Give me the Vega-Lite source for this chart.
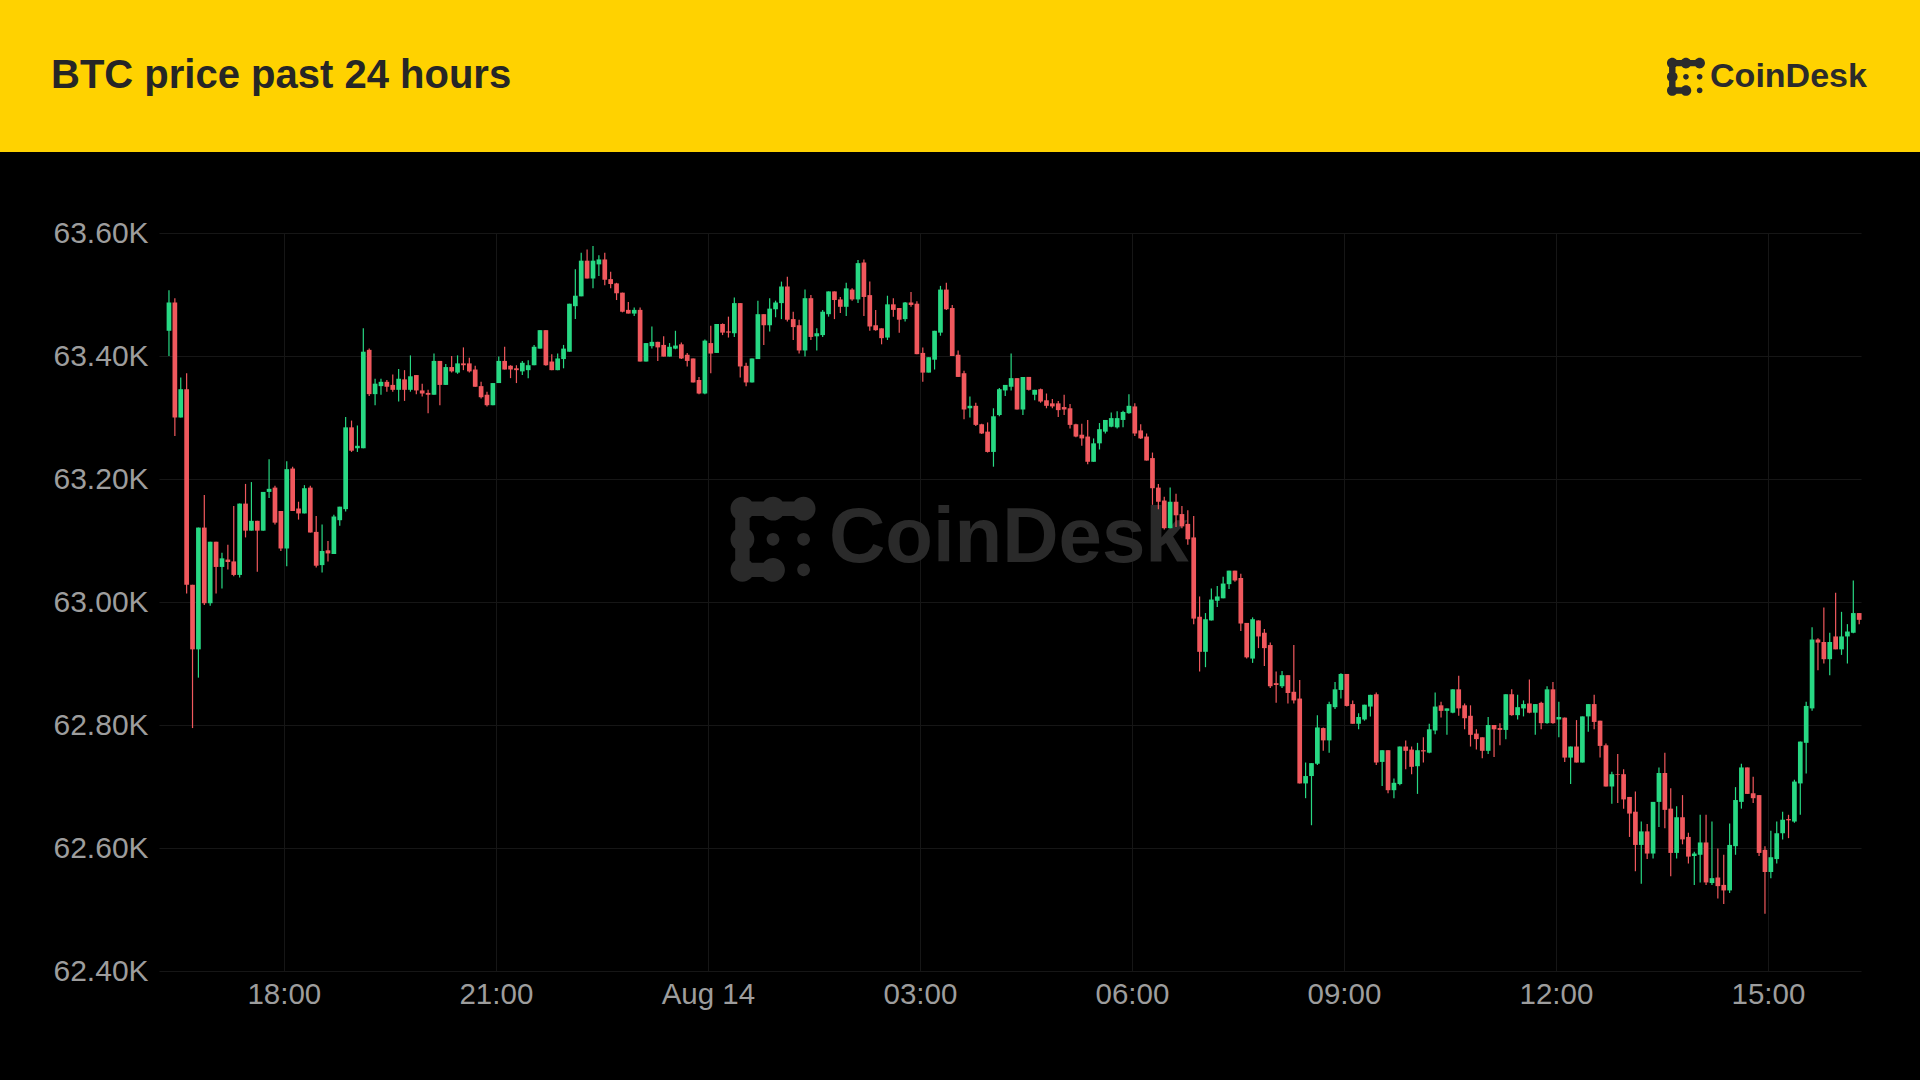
{
  "$schema": "https://vega.github.io/schema/vega-lite/v6.json",
  "width": 1920,
  "height": 928,
  "autosize": {"type": "none"},
  "padding": {"left": 0, "right": 0, "top": 152, "bottom": 0},
  "background": "#FFD200",
  "config": {"view": {"fill": "#000000", "stroke": null}, "font": "Liberation Sans"},
  "datasets": {"candles": [
    {"t":"2024-08-13T16:20","o":63441,"h":63507,"l":63400,"c":63487},
    {"t":"2024-08-13T16:25","o":63487,"h":63494,"l":63270,"c":63300},
    {"t":"2024-08-13T16:30","o":63300,"h":63365,"l":63300,"c":63346},
    {"t":"2024-08-13T16:35","o":63346,"h":63372,"l":63014,"c":63028},
    {"t":"2024-08-13T16:40","o":63028,"h":63028,"l":62795,"c":62923},
    {"t":"2024-08-13T16:45","o":62923,"h":63121,"l":62877,"c":63121},
    {"t":"2024-08-13T16:50","o":63121,"h":63174,"l":62995,"c":62998},
    {"t":"2024-08-13T16:55","o":62998,"h":63098,"l":62994,"c":63098},
    {"t":"2024-08-13T17:00","o":63098,"h":63098,"l":63014,"c":63057},
    {"t":"2024-08-13T17:05","o":63057,"h":63080,"l":63022,"c":63071},
    {"t":"2024-08-13T17:10","o":63069,"h":63093,"l":63053,"c":63065},
    {"t":"2024-08-13T17:15","o":63066,"h":63156,"l":63042,"c":63044},
    {"t":"2024-08-13T17:20","o":63044,"h":63160,"l":63040,"c":63160},
    {"t":"2024-08-13T17:25","o":63160,"h":63192,"l":63105,"c":63116},
    {"t":"2024-08-13T17:30","o":63116,"h":63195,"l":63116,"c":63132},
    {"t":"2024-08-13T17:35","o":63132,"h":63132,"l":63049,"c":63116},
    {"t":"2024-08-13T17:40","o":63116,"h":63179,"l":63116,"c":63179},
    {"t":"2024-08-13T17:45","o":63179,"h":63232,"l":63169,"c":63184},
    {"t":"2024-08-13T17:50","o":63186,"h":63189,"l":63126,"c":63129},
    {"t":"2024-08-13T17:55","o":63148,"h":63148,"l":63083,"c":63087},
    {"t":"2024-08-13T18:00","o":63087,"h":63229,"l":63058,"c":63216},
    {"t":"2024-08-13T18:05","o":63217,"h":63220,"l":63148,"c":63148},
    {"t":"2024-08-13T18:10","o":63152,"h":63163,"l":63134,"c":63144},
    {"t":"2024-08-13T18:15","o":63144,"h":63190,"l":63144,"c":63185},
    {"t":"2024-08-13T18:20","o":63186,"h":63189,"l":63113,"c":63113},
    {"t":"2024-08-13T18:25","o":63114,"h":63140,"l":63056,"c":63059},
    {"t":"2024-08-13T18:30","o":63060,"h":63126,"l":63048,"c":63083},
    {"t":"2024-08-13T18:35","o":63084,"h":63099,"l":63066,"c":63079},
    {"t":"2024-08-13T18:40","o":63078,"h":63142,"l":63078,"c":63139},
    {"t":"2024-08-13T18:45","o":63133,"h":63155,"l":63124,"c":63155},
    {"t":"2024-08-13T18:50","o":63151,"h":63301,"l":63147,"c":63284},
    {"t":"2024-08-13T18:55","o":63284,"h":63295,"l":63244,"c":63246},
    {"t":"2024-08-13T19:00","o":63250,"h":63287,"l":63244,"c":63254},
    {"t":"2024-08-13T19:05","o":63250,"h":63445,"l":63250,"c":63407},
    {"t":"2024-08-13T19:10","o":63410,"h":63412,"l":63335,"c":63338},
    {"t":"2024-08-13T19:15","o":63338,"h":63363,"l":63320,"c":63355},
    {"t":"2024-08-13T19:20","o":63351,"h":63363,"l":63337,"c":63358},
    {"t":"2024-08-13T19:25","o":63358,"h":63361,"l":63342,"c":63350},
    {"t":"2024-08-13T19:30","o":63353,"h":63370,"l":63342,"c":63345},
    {"t":"2024-08-13T19:35","o":63345,"h":63379,"l":63326,"c":63363},
    {"t":"2024-08-13T19:40","o":63362,"h":63377,"l":63327,"c":63345},
    {"t":"2024-08-13T19:45","o":63345,"h":63401,"l":63342,"c":63367},
    {"t":"2024-08-13T19:50","o":63369,"h":63369,"l":63338,"c":63344},
    {"t":"2024-08-13T19:55","o":63344,"h":63355,"l":63334,"c":63339},
    {"t":"2024-08-13T20:00","o":63340,"h":63345,"l":63307,"c":63337},
    {"t":"2024-08-13T20:05","o":63337,"h":63404,"l":63337,"c":63392},
    {"t":"2024-08-13T20:10","o":63392,"h":63392,"l":63320,"c":63353},
    {"t":"2024-08-13T20:15","o":63353,"h":63387,"l":63353,"c":63382},
    {"t":"2024-08-13T20:20","o":63382,"h":63400,"l":63373,"c":63375},
    {"t":"2024-08-13T20:25","o":63373,"h":63401,"l":63371,"c":63388},
    {"t":"2024-08-13T20:30","o":63388,"h":63414,"l":63377,"c":63385},
    {"t":"2024-08-13T20:35","o":63388,"h":63397,"l":63373,"c":63375},
    {"t":"2024-08-13T20:40","o":63378,"h":63384,"l":63350,"c":63350},
    {"t":"2024-08-13T20:45","o":63351,"h":63358,"l":63331,"c":63333},
    {"t":"2024-08-13T20:50","o":63337,"h":63342,"l":63318,"c":63320},
    {"t":"2024-08-13T20:55","o":63320,"h":63356,"l":63320,"c":63356},
    {"t":"2024-08-13T21:00","o":63356,"h":63399,"l":63356,"c":63392},
    {"t":"2024-08-13T21:05","o":63392,"h":63415,"l":63378,"c":63378},
    {"t":"2024-08-13T21:10","o":63384,"h":63385,"l":63364,"c":63378},
    {"t":"2024-08-13T21:15","o":63380,"h":63385,"l":63356,"c":63377},
    {"t":"2024-08-13T21:20","o":63375,"h":63392,"l":63369,"c":63389},
    {"t":"2024-08-13T21:25","o":63377,"h":63393,"l":63364,"c":63385},
    {"t":"2024-08-13T21:30","o":63385,"h":63418,"l":63385,"c":63415},
    {"t":"2024-08-13T21:35","o":63412,"h":63442,"l":63412,"c":63442},
    {"t":"2024-08-13T21:40","o":63442,"h":63442,"l":63384,"c":63385},
    {"t":"2024-08-13T21:45","o":63391,"h":63403,"l":63377,"c":63377},
    {"t":"2024-08-13T21:50","o":63377,"h":63404,"l":63377,"c":63396},
    {"t":"2024-08-13T21:55","o":63395,"h":63418,"l":63380,"c":63412},
    {"t":"2024-08-13T22:00","o":63407,"h":63485,"l":63407,"c":63485},
    {"t":"2024-08-13T22:05","o":63481,"h":63541,"l":63460,"c":63498},
    {"t":"2024-08-13T22:10","o":63497,"h":63568,"l":63497,"c":63555},
    {"t":"2024-08-13T22:15","o":63555,"h":63573,"l":63526,"c":63526},
    {"t":"2024-08-13T22:20","o":63526,"h":63579,"l":63510,"c":63555},
    {"t":"2024-08-13T22:25","o":63549,"h":63564,"l":63530,"c":63557},
    {"t":"2024-08-13T22:30","o":63557,"h":63568,"l":63515,"c":63524},
    {"t":"2024-08-13T22:35","o":63525,"h":63537,"l":63510,"c":63517},
    {"t":"2024-08-13T22:40","o":63518,"h":63519,"l":63491,"c":63502},
    {"t":"2024-08-13T22:45","o":63503,"h":63503,"l":63471,"c":63472},
    {"t":"2024-08-13T22:50","o":63475,"h":63488,"l":63469,"c":63469},
    {"t":"2024-08-13T22:55","o":63469,"h":63479,"l":63465,"c":63475},
    {"t":"2024-08-13T23:00","o":63475,"h":63479,"l":63391,"c":63391},
    {"t":"2024-08-13T23:05","o":63391,"h":63421,"l":63391,"c":63421},
    {"t":"2024-08-13T23:10","o":63416,"h":63448,"l":63412,"c":63423},
    {"t":"2024-08-13T23:15","o":63423,"h":63423,"l":63392,"c":63414},
    {"t":"2024-08-13T23:20","o":63418,"h":63432,"l":63399,"c":63399},
    {"t":"2024-08-13T23:25","o":63399,"h":63421,"l":63399,"c":63415},
    {"t":"2024-08-13T23:30","o":63412,"h":63441,"l":63411,"c":63417},
    {"t":"2024-08-13T23:35","o":63419,"h":63422,"l":63395,"c":63396},
    {"t":"2024-08-13T23:40","o":63402,"h":63405,"l":63383,"c":63392},
    {"t":"2024-08-13T23:45","o":63396,"h":63396,"l":63357,"c":63357},
    {"t":"2024-08-13T23:50","o":63361,"h":63366,"l":63338,"c":63339},
    {"t":"2024-08-13T23:55","o":63339,"h":63427,"l":63338,"c":63425},
    {"t":"2024-08-14T00:00","o":63421,"h":63449,"l":63372,"c":63404},
    {"t":"2024-08-14T00:05","o":63405,"h":63452,"l":63405,"c":63452},
    {"t":"2024-08-14T00:10","o":63452,"h":63453,"l":63434,"c":63438},
    {"t":"2024-08-14T00:15","o":63440,"h":63464,"l":63430,"c":63438},
    {"t":"2024-08-14T00:20","o":63437,"h":63495,"l":63431,"c":63486},
    {"t":"2024-08-14T00:25","o":63486,"h":63486,"l":63365,"c":63383},
    {"t":"2024-08-14T00:30","o":63384,"h":63389,"l":63351,"c":63357},
    {"t":"2024-08-14T00:35","o":63357,"h":63396,"l":63357,"c":63396},
    {"t":"2024-08-14T00:40","o":63395,"h":63490,"l":63395,"c":63468},
    {"t":"2024-08-14T00:45","o":63468,"h":63468,"l":63418,"c":63450},
    {"t":"2024-08-14T00:50","o":63450,"h":63494,"l":63440,"c":63477},
    {"t":"2024-08-14T00:55","o":63476,"h":63490,"l":63463,"c":63487},
    {"t":"2024-08-14T01:00","o":63486,"h":63521,"l":63460,"c":63513},
    {"t":"2024-08-14T01:05","o":63513,"h":63529,"l":63456,"c":63459},
    {"t":"2024-08-14T01:10","o":63460,"h":63472,"l":63426,"c":63447},
    {"t":"2024-08-14T01:15","o":63450,"h":63459,"l":63404,"c":63409},
    {"t":"2024-08-14T01:20","o":63409,"h":63508,"l":63399,"c":63494},
    {"t":"2024-08-14T01:25","o":63494,"h":63499,"l":63426,"c":63431},
    {"t":"2024-08-14T01:30","o":63432,"h":63445,"l":63409,"c":63437},
    {"t":"2024-08-14T01:35","o":63434,"h":63475,"l":63431,"c":63472},
    {"t":"2024-08-14T01:40","o":63468,"h":63505,"l":63464,"c":63505},
    {"t":"2024-08-14T01:45","o":63505,"h":63505,"l":63460,"c":63491},
    {"t":"2024-08-14T01:50","o":63492,"h":63496,"l":63470,"c":63480},
    {"t":"2024-08-14T01:55","o":63480,"h":63519,"l":63465,"c":63510},
    {"t":"2024-08-14T02:00","o":63508,"h":63510,"l":63490,"c":63492},
    {"t":"2024-08-14T02:05","o":63492,"h":63556,"l":63486,"c":63551},
    {"t":"2024-08-14T02:10","o":63552,"h":63557,"l":63465,"c":63496},
    {"t":"2024-08-14T02:15","o":63499,"h":63521,"l":63441,"c":63448},
    {"t":"2024-08-14T02:20","o":63450,"h":63475,"l":63441,"c":63442},
    {"t":"2024-08-14T02:25","o":63445,"h":63445,"l":63419,"c":63429},
    {"t":"2024-08-14T02:30","o":63430,"h":63498,"l":63426,"c":63484},
    {"t":"2024-08-14T02:35","o":63484,"h":63494,"l":63464,"c":63475},
    {"t":"2024-08-14T02:40","o":63478,"h":63478,"l":63438,"c":63459},
    {"t":"2024-08-14T02:45","o":63460,"h":63488,"l":63456,"c":63487},
    {"t":"2024-08-14T02:50","o":63487,"h":63504,"l":63480,"c":63483},
    {"t":"2024-08-14T02:55","o":63485,"h":63489,"l":63403,"c":63403},
    {"t":"2024-08-14T03:00","o":63405,"h":63414,"l":63358,"c":63373},
    {"t":"2024-08-14T03:05","o":63373,"h":63398,"l":63373,"c":63398},
    {"t":"2024-08-14T03:10","o":63394,"h":63441,"l":63378,"c":63441},
    {"t":"2024-08-14T03:15","o":63438,"h":63514,"l":63433,"c":63508},
    {"t":"2024-08-14T03:20","o":63508,"h":63519,"l":63475,"c":63476},
    {"t":"2024-08-14T03:25","o":63478,"h":63483,"l":63400,"c":63400},
    {"t":"2024-08-14T03:30","o":63402,"h":63409,"l":63366,"c":63366},
    {"t":"2024-08-14T03:35","o":63372,"h":63376,"l":63297,"c":63313},
    {"t":"2024-08-14T03:40","o":63315,"h":63334,"l":63300,"c":63319},
    {"t":"2024-08-14T03:45","o":63319,"h":63324,"l":63286,"c":63288},
    {"t":"2024-08-14T03:50","o":63289,"h":63290,"l":63273,"c":63274},
    {"t":"2024-08-14T03:55","o":63277,"h":63292,"l":63243,"c":63244},
    {"t":"2024-08-14T04:00","o":63244,"h":63315,"l":63220,"c":63302},
    {"t":"2024-08-14T04:05","o":63304,"h":63348,"l":63302,"c":63346},
    {"t":"2024-08-14T04:10","o":63344,"h":63353,"l":63335,"c":63353},
    {"t":"2024-08-14T04:15","o":63350,"h":63404,"l":63344,"c":63364},
    {"t":"2024-08-14T04:20","o":63364,"h":63364,"l":63313,"c":63313},
    {"t":"2024-08-14T04:25","o":63313,"h":63366,"l":63304,"c":63366},
    {"t":"2024-08-14T04:30","o":63366,"h":63366,"l":63344,"c":63345},
    {"t":"2024-08-14T04:35","o":63337,"h":63345,"l":63328,"c":63345},
    {"t":"2024-08-14T04:40","o":63346,"h":63347,"l":63324,"c":63326},
    {"t":"2024-08-14T04:45","o":63328,"h":63339,"l":63315,"c":63319},
    {"t":"2024-08-14T04:50","o":63323,"h":63330,"l":63315,"c":63318},
    {"t":"2024-08-14T04:55","o":63323,"h":63327,"l":63301,"c":63312},
    {"t":"2024-08-14T05:00","o":63317,"h":63337,"l":63304,"c":63313},
    {"t":"2024-08-14T05:05","o":63315,"h":63322,"l":63282,"c":63288},
    {"t":"2024-08-14T05:10","o":63289,"h":63290,"l":63268,"c":63269},
    {"t":"2024-08-14T05:15","o":63272,"h":63290,"l":63254,"c":63266},
    {"t":"2024-08-14T05:20","o":63269,"h":63296,"l":63224,"c":63228},
    {"t":"2024-08-14T05:25","o":63228,"h":63266,"l":63228,"c":63258},
    {"t":"2024-08-14T05:30","o":63258,"h":63291,"l":63248,"c":63281},
    {"t":"2024-08-14T05:35","o":63277,"h":63296,"l":63274,"c":63296},
    {"t":"2024-08-14T05:40","o":63285,"h":63308,"l":63284,"c":63299},
    {"t":"2024-08-14T05:45","o":63284,"h":63310,"l":63282,"c":63299},
    {"t":"2024-08-14T05:50","o":63296,"h":63311,"l":63284,"c":63309},
    {"t":"2024-08-14T05:55","o":63307,"h":63338,"l":63306,"c":63319},
    {"t":"2024-08-14T06:00","o":63318,"h":63323,"l":63270,"c":63274},
    {"t":"2024-08-14T06:05","o":63279,"h":63289,"l":63265,"c":63266},
    {"t":"2024-08-14T06:10","o":63269,"h":63274,"l":63230,"c":63230},
    {"t":"2024-08-14T06:15","o":63234,"h":63243,"l":63158,"c":63185},
    {"t":"2024-08-14T06:20","o":63186,"h":63192,"l":63151,"c":63163},
    {"t":"2024-08-14T06:25","o":63165,"h":63171,"l":63118,"c":63120},
    {"t":"2024-08-14T06:30","o":63120,"h":63186,"l":63120,"c":63163},
    {"t":"2024-08-14T06:35","o":63163,"h":63176,"l":63122,"c":63141},
    {"t":"2024-08-14T06:40","o":63143,"h":63156,"l":63120,"c":63123},
    {"t":"2024-08-14T06:45","o":63127,"h":63149,"l":63093,"c":63102},
    {"t":"2024-08-14T06:50","o":63105,"h":63140,"l":62964,"c":62973},
    {"t":"2024-08-14T06:55","o":62976,"h":63009,"l":62887,"c":62919},
    {"t":"2024-08-14T07:00","o":62919,"h":62982,"l":62894,"c":62972},
    {"t":"2024-08-14T07:05","o":62970,"h":63022,"l":62970,"c":63004},
    {"t":"2024-08-14T07:10","o":63002,"h":63026,"l":62992,"c":63009},
    {"t":"2024-08-14T07:15","o":63006,"h":63041,"l":63006,"c":63030},
    {"t":"2024-08-14T07:20","o":63029,"h":63051,"l":63021,"c":63051},
    {"t":"2024-08-14T07:25","o":63051,"h":63051,"l":63033,"c":63035},
    {"t":"2024-08-14T07:30","o":63039,"h":63046,"l":62953,"c":62965},
    {"t":"2024-08-14T07:35","o":62966,"h":62966,"l":62908,"c":62910},
    {"t":"2024-08-14T07:40","o":62908,"h":62975,"l":62901,"c":62972},
    {"t":"2024-08-14T07:45","o":62970,"h":62970,"l":62925,"c":62944},
    {"t":"2024-08-14T07:50","o":62950,"h":62956,"l":62896,"c":62925},
    {"t":"2024-08-14T07:55","o":62930,"h":62934,"l":62860,"c":62863},
    {"t":"2024-08-14T08:00","o":62868,"h":62887,"l":62836,"c":62865},
    {"t":"2024-08-14T08:05","o":62863,"h":62888,"l":62860,"c":62881},
    {"t":"2024-08-14T08:10","o":62881,"h":62881,"l":62835,"c":62852},
    {"t":"2024-08-14T08:15","o":62854,"h":62930,"l":62835,"c":62840},
    {"t":"2024-08-14T08:20","o":62843,"h":62873,"l":62705,"c":62705},
    {"t":"2024-08-14T08:25","o":62705,"h":62739,"l":62681,"c":62717},
    {"t":"2024-08-14T08:30","o":62717,"h":62738,"l":62637,"c":62738},
    {"t":"2024-08-14T08:35","o":62737,"h":62816,"l":62735,"c":62796},
    {"t":"2024-08-14T08:40","o":62795,"h":62796,"l":62758,"c":62775},
    {"t":"2024-08-14T08:45","o":62775,"h":62838,"l":62755,"c":62834},
    {"t":"2024-08-14T08:50","o":62829,"h":62870,"l":62826,"c":62858},
    {"t":"2024-08-14T08:55","o":62857,"h":62884,"l":62843,"c":62883},
    {"t":"2024-08-14T09:00","o":62883,"h":62883,"l":62830,"c":62831},
    {"t":"2024-08-14T09:05","o":62834,"h":62840,"l":62802,"c":62802},
    {"t":"2024-08-14T09:10","o":62802,"h":62819,"l":62793,"c":62813},
    {"t":"2024-08-14T09:15","o":62809,"h":62833,"l":62807,"c":62833},
    {"t":"2024-08-14T09:20","o":62830,"h":62849,"l":62814,"c":62849},
    {"t":"2024-08-14T09:25","o":62850,"h":62853,"l":62735,"c":62739},
    {"t":"2024-08-14T09:30","o":62740,"h":62759,"l":62701,"c":62759},
    {"t":"2024-08-14T09:35","o":62759,"h":62759,"l":62689,"c":62694},
    {"t":"2024-08-14T09:40","o":62694,"h":62713,"l":62681,"c":62706},
    {"t":"2024-08-14T09:45","o":62704,"h":62765,"l":62702,"c":62765},
    {"t":"2024-08-14T09:50","o":62765,"h":62775,"l":62728,"c":62758},
    {"t":"2024-08-14T09:55","o":62760,"h":62765,"l":62720,"c":62732},
    {"t":"2024-08-14T10:00","o":62733,"h":62771,"l":62688,"c":62759},
    {"t":"2024-08-14T10:05","o":62759,"h":62780,"l":62739,"c":62757},
    {"t":"2024-08-14T10:10","o":62755,"h":62802,"l":62754,"c":62793},
    {"t":"2024-08-14T10:15","o":62791,"h":62853,"l":62785,"c":62830},
    {"t":"2024-08-14T10:20","o":62832,"h":62838,"l":62812,"c":62823},
    {"t":"2024-08-14T10:25","o":62823,"h":62827,"l":62784,"c":62827},
    {"t":"2024-08-14T10:30","o":62820,"h":62858,"l":62819,"c":62858},
    {"t":"2024-08-14T10:35","o":62858,"h":62880,"l":62815,"c":62827},
    {"t":"2024-08-14T10:40","o":62832,"h":62835,"l":62793,"c":62811},
    {"t":"2024-08-14T10:45","o":62815,"h":62832,"l":62765,"c":62784},
    {"t":"2024-08-14T10:50","o":62786,"h":62793,"l":62760,"c":62777},
    {"t":"2024-08-14T10:55","o":62780,"h":62780,"l":62746,"c":62758},
    {"t":"2024-08-14T11:00","o":62758,"h":62813,"l":62753,"c":62800},
    {"t":"2024-08-14T11:05","o":62800,"h":62800,"l":62748,"c":62793},
    {"t":"2024-08-14T11:10","o":62795,"h":62803,"l":62767,"c":62792},
    {"t":"2024-08-14T11:15","o":62792,"h":62850,"l":62777,"c":62850},
    {"t":"2024-08-14T11:20","o":62850,"h":62858,"l":62815,"c":62816},
    {"t":"2024-08-14T11:25","o":62816,"h":62849,"l":62809,"c":62829},
    {"t":"2024-08-14T11:30","o":62827,"h":62840,"l":62814,"c":62834},
    {"t":"2024-08-14T11:35","o":62835,"h":62874,"l":62819,"c":62820},
    {"t":"2024-08-14T11:40","o":62820,"h":62834,"l":62784,"c":62834},
    {"t":"2024-08-14T11:45","o":62836,"h":62838,"l":62793,"c":62803},
    {"t":"2024-08-14T11:50","o":62803,"h":62863,"l":62802,"c":62858},
    {"t":"2024-08-14T11:55","o":62858,"h":62870,"l":62802,"c":62803},
    {"t":"2024-08-14T12:00","o":62809,"h":62838,"l":62780,"c":62813},
    {"t":"2024-08-14T12:05","o":62812,"h":62812,"l":62740,"c":62747},
    {"t":"2024-08-14T12:10","o":62747,"h":62765,"l":62704,"c":62765},
    {"t":"2024-08-14T12:15","o":62765,"h":62808,"l":62739,"c":62739},
    {"t":"2024-08-14T12:20","o":62739,"h":62814,"l":62739,"c":62814},
    {"t":"2024-08-14T12:25","o":62814,"h":62834,"l":62789,"c":62834},
    {"t":"2024-08-14T12:30","o":62834,"h":62849,"l":62793,"c":62805},
    {"t":"2024-08-14T12:35","o":62807,"h":62807,"l":62747,"c":62766},
    {"t":"2024-08-14T12:40","o":62767,"h":62770,"l":62700,"c":62700},
    {"t":"2024-08-14T12:45","o":62700,"h":62724,"l":62672,"c":62720},
    {"t":"2024-08-14T12:50","o":62720,"h":62753,"l":62673,"c":62719},
    {"t":"2024-08-14T12:55","o":62720,"h":62728,"l":62664,"c":62679},
    {"t":"2024-08-14T13:00","o":62683,"h":62683,"l":62618,"c":62656},
    {"t":"2024-08-14T13:05","o":62659,"h":62692,"l":62562,"c":62605},
    {"t":"2024-08-14T13:10","o":62605,"h":62643,"l":62542,"c":62627},
    {"t":"2024-08-14T13:15","o":62627,"h":62639,"l":62582,"c":62591},
    {"t":"2024-08-14T13:20","o":62591,"h":62675,"l":62583,"c":62675},
    {"t":"2024-08-14T13:25","o":62675,"h":62731,"l":62634,"c":62722},
    {"t":"2024-08-14T13:30","o":62722,"h":62755,"l":62632,"c":62662},
    {"t":"2024-08-14T13:35","o":62664,"h":62697,"l":62554,"c":62592},
    {"t":"2024-08-14T13:40","o":62592,"h":62668,"l":62583,"c":62650},
    {"t":"2024-08-14T13:45","o":62650,"h":62686,"l":62606,"c":62614},
    {"t":"2024-08-14T13:50","o":62618,"h":62625,"l":62575,"c":62586},
    {"t":"2024-08-14T13:55","o":62587,"h":62594,"l":62540,"c":62591},
    {"t":"2024-08-14T14:00","o":62589,"h":62654,"l":62544,"c":62609},
    {"t":"2024-08-14T14:05","o":62609,"h":62654,"l":62540,"c":62544},
    {"t":"2024-08-14T14:10","o":62543,"h":62643,"l":62540,"c":62551},
    {"t":"2024-08-14T14:15","o":62552,"h":62599,"l":62518,"c":62538},
    {"t":"2024-08-14T14:20","o":62540,"h":62589,"l":62509,"c":62531},
    {"t":"2024-08-14T14:25","o":62531,"h":62640,"l":62527,"c":62605},
    {"t":"2024-08-14T14:30","o":62603,"h":62699,"l":62589,"c":62678},
    {"t":"2024-08-14T14:35","o":62675,"h":62737,"l":62664,"c":62731},
    {"t":"2024-08-14T14:40","o":62731,"h":62731,"l":62688,"c":62688},
    {"t":"2024-08-14T14:45","o":62689,"h":62716,"l":62673,"c":62681},
    {"t":"2024-08-14T14:50","o":62686,"h":62686,"l":62587,"c":62592},
    {"t":"2024-08-14T14:55","o":62597,"h":62603,"l":62493,"c":62561},
    {"t":"2024-08-14T15:00","o":62561,"h":62628,"l":62551,"c":62585},
    {"t":"2024-08-14T15:05","o":62582,"h":62643,"l":62575,"c":62624},
    {"t":"2024-08-14T15:10","o":62624,"h":62659,"l":62614,"c":62646},
    {"t":"2024-08-14T15:15","o":62647,"h":62654,"l":62616,"c":62645},
    {"t":"2024-08-14T15:20","o":62643,"h":62711,"l":62641,"c":62708},
    {"t":"2024-08-14T15:25","o":62705,"h":62773,"l":62654,"c":62773},
    {"t":"2024-08-14T15:30","o":62771,"h":62838,"l":62721,"c":62831},
    {"t":"2024-08-14T15:35","o":62827,"h":62959,"l":62823,"c":62939},
    {"t":"2024-08-14T15:40","o":62939,"h":62941,"l":62889,"c":62934},
    {"t":"2024-08-14T15:45","o":62935,"h":62991,"l":62900,"c":62907},
    {"t":"2024-08-14T15:50","o":62907,"h":62950,"l":62881,"c":62935},
    {"t":"2024-08-14T15:55","o":62944,"h":63015,"l":62923,"c":62923},
    {"t":"2024-08-14T16:00","o":62923,"h":62984,"l":62914,"c":62944},
    {"t":"2024-08-14T16:05","o":62944,"h":62964,"l":62900,"c":62952},
    {"t":"2024-08-14T16:10","o":62950,"h":63035,"l":62949,"c":62982},
    {"t":"2024-08-14T16:15","o":62982,"h":62982,"l":62964,"c":62971}
  ]},
  "layer": [
    {
      "data": {"values": [{}]},
      "mark": {"type": "point", "shape": "M-1,-0.72a0.28,0.28 0 1,1 0.56,0a0.28,0.28 0 1,1 -0.56,0ZM-0.28,-0.72a0.28,0.28 0 1,1 0.56,0a0.28,0.28 0 1,1 -0.56,0ZM0.44,-0.72a0.28,0.28 0 1,1 0.56,0a0.28,0.28 0 1,1 -0.56,0ZM-1,0a0.28,0.28 0 1,1 0.56,0a0.28,0.28 0 1,1 -0.56,0ZM-1,0.72a0.28,0.28 0 1,1 0.56,0a0.28,0.28 0 1,1 -0.56,0ZM-0.28,0.72a0.28,0.28 0 1,1 0.56,0a0.28,0.28 0 1,1 -0.56,0ZM-0.72,-0.89H0.72V-0.55H-0.72ZM-0.89,-0.72H-0.55V0.72H-0.89ZM-0.72,0.55H0V0.89H-0.72ZM-0.15,0a0.15,0.15 0 1,1 0.3,0a0.15,0.15 0 1,1 -0.3,0ZM0.57,0a0.15,0.15 0 1,1 0.3,0a0.15,0.15 0 1,1 -0.3,0ZM0.57,0.72a0.15,0.15 0 1,1 0.3,0a0.15,0.15 0 1,1 -0.3,0Z", "filled": true, "size": 7225, "color": "#2a2a2a", "opacity": 1, "strokeWidth": 0},
      "encoding": {
        "x": {"datum": {"year": 2024, "month": 8, "date": 14, "hours": 0, "minutes": 55, "seconds": 18}, "type": "temporal"},
        "y": {"datum": 63102, "type": "quantitative"}
      }
    },
    {
      "data": {"values": [{}]},
      "mark": {"type": "text", "text": "CoinDesk", "align": "left", "baseline": "middle", "fontSize": 78, "fontWeight": "bold", "color": "#2a2a2a"},
      "encoding": {
        "x": {"datum": {"year": 2024, "month": 8, "date": 14, "hours": 1, "minutes": 42, "seconds": 48}, "type": "temporal"},
        "y": {"datum": 63102, "type": "quantitative"}
      }
    },
    {
      "data": {"name": "candles"},
      "mark": {"type": "rule", "xOffset": 2.9, "strokeWidth": 1.2},
      "encoding": {
        "x": {
          "field": "t",
          "type": "temporal",
          "scale": {
            "domain": [
              {"year": 2024, "month": 8, "date": 13, "hours": 16, "minutes": 14},
              {"year": 2024, "month": 8, "date": 14, "hours": 16, "minutes": 19}
            ],
            "range": [159, 1861],
            "padding": 0,
            "nice": false
          },
          "axis": {
            "orient": "top",
            "values": [
              {"year": 2024, "month": 8, "date": 13, "hours": 18},
              {"year": 2024, "month": 8, "date": 13, "hours": 21},
              {"year": 2024, "month": 8, "date": 14, "hours": 0},
              {"year": 2024, "month": 8, "date": 14, "hours": 3},
              {"year": 2024, "month": 8, "date": 14, "hours": 6},
              {"year": 2024, "month": 8, "date": 14, "hours": 9},
              {"year": 2024, "month": 8, "date": 14, "hours": 12},
              {"year": 2024, "month": 8, "date": 14, "hours": 15}
            ],
            "labelExpr": "hours(datum.value) == 0 ? timeFormat(datum.value, '%b %d') : timeFormat(datum.value, '%H:%M')",
            "grid": true,
            "gridColor": "#161616",
            "domain": false,
            "ticks": false,
            "labelColor": "#9d9d9d",
            "labelFontSize": 29.5,
            "labelBaseline": "top",
            "labelPadding": -828,
            "labelFlush": false,
            "labelOverlap": false,
            "title": null
          }
        },
        "y": {
          "field": "l",
          "type": "quantitative",
          "scale": {"domain": [62400, 63600], "range": [819, 81], "nice": false, "zero": false, "padding": 0},
          "axis": {
            "orient": "left",
            "values": [62400, 62600, 62800, 63000, 63200, 63400, 63600],
            "labelExpr": "format(datum.value / 1000, '.2f') + 'K'",
            "grid": true,
            "gridColor": "#161616",
            "domain": false,
            "ticks": false,
            "labelAlign": "left",
            "labelBaseline": "middle",
            "labelPadding": -53,
            "labelColor": "#9d9d9d",
            "labelFontSize": 30,
            "title": null
          }
        },
        "y2": {"field": "h"},
        "color": {"condition": {"test": "datum.c >= datum.o", "value": "#27d883"}, "value": "#f0585d"}
      }
    },
    {
      "data": {"name": "candles"},
      "mark": {"type": "bar", "width": 4.7, "xOffset": 2.9},
      "encoding": {
        "x": {"field": "t", "type": "temporal"},
        "y": {"field": "o", "type": "quantitative"},
        "y2": {"field": "c"},
        "color": {"condition": {"test": "datum.c >= datum.o", "value": "#27d883"}, "value": "#f0585d"}
      }
    },
    {
      "data": {"values": [{}]},
      "mark": {"type": "text", "text": "BTC price past 24 hours", "align": "left", "baseline": "middle", "fontSize": 40, "fontWeight": "bold", "color": "#262626"},
      "encoding": {
        "x": {"datum": {"year": 2024, "month": 8, "date": 13, "hours": 14, "minutes": 42, "seconds": 19}, "type": "temporal"},
        "y": {"datum": 63856, "type": "quantitative"}
      }
    },
    {
      "data": {"values": [{}]},
      "mark": {"type": "text", "text": "CoinDesk", "align": "right", "baseline": "middle", "fontSize": 34, "fontWeight": "bold", "color": "#2b2b2b"},
      "encoding": {
        "x": {"datum": {"year": 2024, "month": 8, "date": 14, "hours": 16, "minutes": 24}, "type": "temporal"},
        "y": {"datum": 63854, "type": "quantitative"}
      }
    },
    {
      "data": {"values": [{}]},
      "mark": {"type": "point", "shape": "M-1,-0.72a0.28,0.28 0 1,1 0.56,0a0.28,0.28 0 1,1 -0.56,0ZM-0.28,-0.72a0.28,0.28 0 1,1 0.56,0a0.28,0.28 0 1,1 -0.56,0ZM0.44,-0.72a0.28,0.28 0 1,1 0.56,0a0.28,0.28 0 1,1 -0.56,0ZM-1,0a0.28,0.28 0 1,1 0.56,0a0.28,0.28 0 1,1 -0.56,0ZM-1,0.72a0.28,0.28 0 1,1 0.56,0a0.28,0.28 0 1,1 -0.56,0ZM-0.28,0.72a0.28,0.28 0 1,1 0.56,0a0.28,0.28 0 1,1 -0.56,0ZM-0.72,-0.89H0.72V-0.55H-0.72ZM-0.89,-0.72H-0.55V0.72H-0.89ZM-0.72,0.55H0V0.89H-0.72ZM-0.15,0a0.15,0.15 0 1,1 0.3,0a0.15,0.15 0 1,1 -0.3,0ZM0.57,0a0.15,0.15 0 1,1 0.3,0a0.15,0.15 0 1,1 -0.3,0ZM0.57,0.72a0.15,0.15 0 1,1 0.3,0a0.15,0.15 0 1,1 -0.3,0Z", "filled": true, "size": 1444, "color": "#2b2b2b", "opacity": 1, "strokeWidth": 0},
      "encoding": {
        "x": {"datum": {"year": 2024, "month": 8, "date": 14, "hours": 13, "minutes": 50, "seconds": 24}, "type": "temporal"},
        "y": {"datum": 63854, "type": "quantitative"}
      }
    }
  ]
}
